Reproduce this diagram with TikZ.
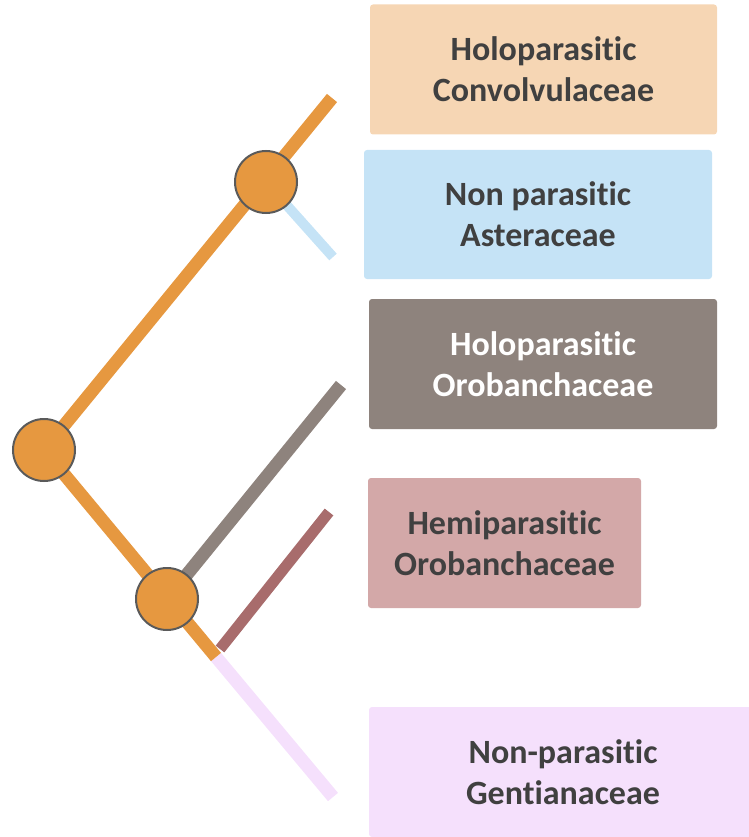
\documentclass[tikz,border=0pt]{standalone}
\usepackage{fontspec}
\setmainfont{Carlito}[Ligatures={NoCommon,NoContextual}]
\definecolor{branchorange}{HTML}{E69840}
\definecolor{dotline}{HTML}{5A5A5A}
\definecolor{labelgray}{HTML}{404040}
\definecolor{convfill}{HTML}{F6D6B4}
\definecolor{astfill}{HTML}{C5E3F6}
\definecolor{holofill}{HTML}{8E837D}
\definecolor{hemifill}{HTML}{D3A8A8}
\definecolor{hemiline}{HTML}{A86C6C}
\definecolor{genfill}{HTML}{F5E0FC}
\begin{document}
\begin{tikzpicture}[x=1pt,y=-1pt,
    taxon/.style={rounded corners=3pt,align=center,inner sep=0pt,text=labelgray,
      font=\fontsize{34}{41}\selectfont\bfseries},
    nodedot/.style={circle,fill=branchorange,draw=dotline,line width=2pt,minimum size=62pt,inner sep=0pt}]
  \useasboundingbox (0,0) rectangle (748,837);

  % Family boxes
  \node[taxon,fill=convfill,minimum width=347pt,minimum height=130pt] (conv) at (543.5,69.5) {Holoparasitic\\Convolvulaceae};
  \node[taxon,fill=astfill,minimum width=348pt,minimum height=129pt] (ast) at (538,214.5) {Non parasitic\\Asteraceae};
  \node[taxon,fill=holofill,text=white,minimum width=348pt,minimum height=130pt] (holo) at (543,364) {Holoparasitic\\Orobanchaceae};
  \node[taxon,fill=hemifill,minimum width=273pt,minimum height=130pt] (hemi) at (504.5,543) {Hemiparasitic\\Orobanchaceae};
  \node[taxon,fill=genfill,minimum width=388pt,minimum height=130pt] (gen) at (563,772) {Non-parasitic\\Gentianaceae};

  % Branch points and tips
  \coordinate (root) at (44,450);
  \coordinate (upper) at (266,182);
  \coordinate (lower) at (167,599);
  \coordinate (split) at (216,657);
  \coordinate (convtip) at (332,98);
  \coordinate (asttip) at (333,257);
  \coordinate (holotip) at (341,385);
  \coordinate (hemibase) at (220,649);
  \coordinate (hemitip) at (329,512);
  \coordinate (gentip) at (333,797);

  % Tree
  \draw[astfill,line width=10pt] (upper) -- (asttip);
  \draw[holofill,line width=13pt] (lower) -- (holotip);
  \draw[genfill,line width=13pt] (split) -- (gentip);
  \draw[branchorange,line width=13pt] (root) -- (convtip);
  \draw[branchorange,line width=13pt] (root) -- (split);
  \draw[hemiline,line width=11pt] (hemibase) -- (hemitip);

  % Nodes
  \node[nodedot] (rootdot) at (root) {};
  \node[nodedot] (upperdot) at (upper) {};
  \node[nodedot] (lowerdot) at (lower) {};
\end{tikzpicture}
\end{document}
